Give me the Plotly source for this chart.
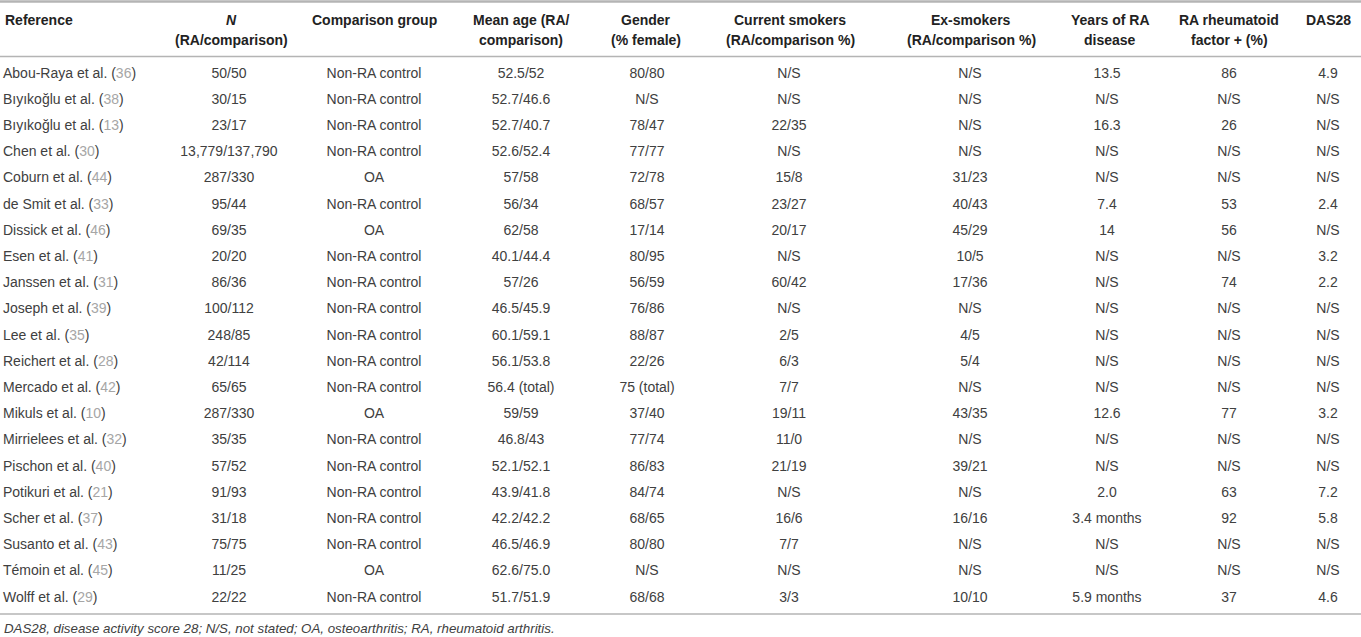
import plotly.graph_objects as go

# table data
authors = ["Abou-Raya et al.", "Bıyıkoğlu et al.", "Bıyıkoğlu et al.", "Chen et al.",
           "Coburn et al.", "de Smit et al.", "Dissick et al.", "Esen et al.",
           "Janssen et al.", "Joseph et al.", "Lee et al.", "Reichert et al.",
           "Mercado et al.", "Mikuls et al.", "Mirrielees et al.", "Pischon et al.",
           "Potikuri et al.", "Scher et al.", "Susanto et al.", "Témoin et al.",
           "Wolff et al."]
ref_nums = ["36", "38", "13", "30", "44", "33", "46", "41", "31", "39", "35",
            "28", "42", "10", "32", "40", "21", "37", "43", "45", "29"]
n_ra_comp = ["50/50", "30/15", "23/17", "13,779/137,790", "287/330", "95/44",
             "69/35", "20/20", "86/36", "100/112", "248/85", "42/114", "65/65",
             "287/330", "35/35", "57/52", "91/93", "31/18", "75/75", "11/25", "22/22"]
comparison = ["Non-RA control", "Non-RA control", "Non-RA control", "Non-RA control",
              "OA", "Non-RA control", "OA", "Non-RA control", "Non-RA control",
              "Non-RA control", "Non-RA control", "Non-RA control", "Non-RA control",
              "OA", "Non-RA control", "Non-RA control", "Non-RA control",
              "Non-RA control", "Non-RA control", "OA", "Non-RA control"]
mean_age = ["52.5/52", "52.7/46.6", "52.7/40.7", "52.6/52.4", "57/58", "56/34",
            "62/58", "40.1/44.4", "57/26", "46.5/45.9", "60.1/59.1", "56.1/53.8",
            "56.4 (total)", "59/59", "46.8/43", "52.1/52.1", "43.9/41.8",
            "42.2/42.2", "46.5/46.9", "62.6/75.0", "51.7/51.9"]
gender = ["80/80", "N/S", "78/47", "77/77", "72/78", "68/57", "17/14", "80/95",
          "56/59", "76/86", "88/87", "22/26", "75 (total)", "37/40", "77/74",
          "86/83", "84/74", "68/65", "80/80", "N/S", "68/68"]
current_smokers = ["N/S", "N/S", "22/35", "N/S", "15/8", "23/27", "20/17", "N/S",
                   "60/42", "N/S", "2/5", "6/3", "7/7", "19/11", "11/0", "21/19",
                   "N/S", "16/6", "7/7", "N/S", "3/3"]
ex_smokers = ["N/S", "N/S", "N/S", "N/S", "31/23", "40/43", "45/29", "10/5",
              "17/36", "N/S", "4/5", "5/4", "N/S", "43/35", "N/S", "39/21", "N/S",
              "16/16", "N/S", "N/S", "10/10"]
years_ra = ["13.5", "N/S", "16.3", "N/S", "N/S", "7.4", "14", "N/S", "N/S", "N/S",
            "N/S", "N/S", "N/S", "12.6", "N/S", "N/S", "2.0", "3.4 months", "N/S",
            "N/S", "5.9 months"]
rf_pos = ["86", "N/S", "26", "N/S", "N/S", "53", "56", "N/S", "74", "N/S", "N/S",
          "N/S", "N/S", "77", "N/S", "N/S", "63", "92", "N/S", "N/S", "37"]
das28 = ["4.9", "N/S", "N/S", "N/S", "N/S", "2.4", "N/S", "3.2", "2.2", "N/S", "N/S",
         "N/S", "N/S", "3.2", "N/S", "N/S", "7.2", "5.8", "N/S", "N/S", "4.6"]

header_top = ["Reference", "<i>N</i>", "Comparison group", "Mean age (RA/", "Gender",
              "Current smokers", "Ex-smokers", "Years of RA", "RA rheumatoid", "DAS28"]
header_bottom = ["", "(RA/comparison)", "", "comparison)", "(% female)",
                 "(RA/comparison %)", "(RA/comparison %)", "disease", "factor + (%)", ""]
footnote = "DAS28, disease activity score 28; N/S, not stated; OA, osteoarthritis; RA, rheumatoid arthritis."

# layout: x positions (px) of body cells and of header cells
col_x = [3, 229, 374, 521, 647, 789, 970, 1107, 1229, 1328]
head_x = [3, 231, 374, 521, 646, 790, 971, 1110, 1229, 1328]
W, H = 1361, 637
row0_px, row_h = 74, 26.2


def py(px):
    # pixel row -> y axis value
    return (px - row0_px) / row_h


FONT = "Liberation Sans, Arial, sans-serif"
TXT = "#404040"
HDR = "#222222"
LINE = "#b4b4b4"
FS = 14

rows = list(range(len(authors)))
ref_text = [f"{a} (<span style='color:#a6a6a6'>{n}</span>)" for a, n in zip(authors, ref_nums)]
columns = [ref_text, n_ra_comp, comparison, mean_age, gender, current_smokers,
           ex_smokers, years_ra, rf_pos, das28]

fig = go.Figure()
for i, col in enumerate(columns):
    fig.add_trace(go.Scatter(
        x=[col_x[i]] * len(col), y=rows, text=col, mode="text",
        textposition="middle right" if i == 0 else "middle center",
        textfont=dict(family=FONT, size=FS, color=TXT),
        hoverinfo="skip", showlegend=False,
    ))

for i in range(len(header_top)):
    align = "left" if i == 0 else "center"
    for txt, ypx in ((header_top[i], 19.5), (header_bottom[i], 39.5)):
        if not txt:
            continue
        fig.add_annotation(
            x=head_x[i], y=py(ypx), text=f"<b>{txt}</b>", showarrow=False,
            xanchor=align, yanchor="middle",
            font=dict(family=FONT, size=FS, color=HDR),
        )

fig.add_annotation(
    x=2, y=py(628), text=f"<i>{footnote}</i>", showarrow=False,
    xanchor="left", yanchor="middle",
    font=dict(family=FONT, size=13.3, color=TXT),
)

for ypx, w in ((1.5, 2.5), (56.5, 1.5), (614, 1.5)):
    fig.add_shape(type="line", x0=0, x1=W, y0=py(ypx), y1=py(ypx),
                  line=dict(color=LINE, width=w))

fig.update_xaxes(range=[0, W], visible=False, fixedrange=True)
fig.update_yaxes(range=[py(H), py(0)], visible=False, fixedrange=True)
fig.update_layout(
    width=W, height=H, margin=dict(l=0, r=0, t=0, b=0),
    plot_bgcolor="white", paper_bgcolor="white",
)

# drop the page's default body margin so the figure sits at the top-left
fig.write_html("out.html", config={"displayModeBar": False},
               post_script="document.body.style.margin='0';"
                           "document.body.style.overflow='hidden';")
